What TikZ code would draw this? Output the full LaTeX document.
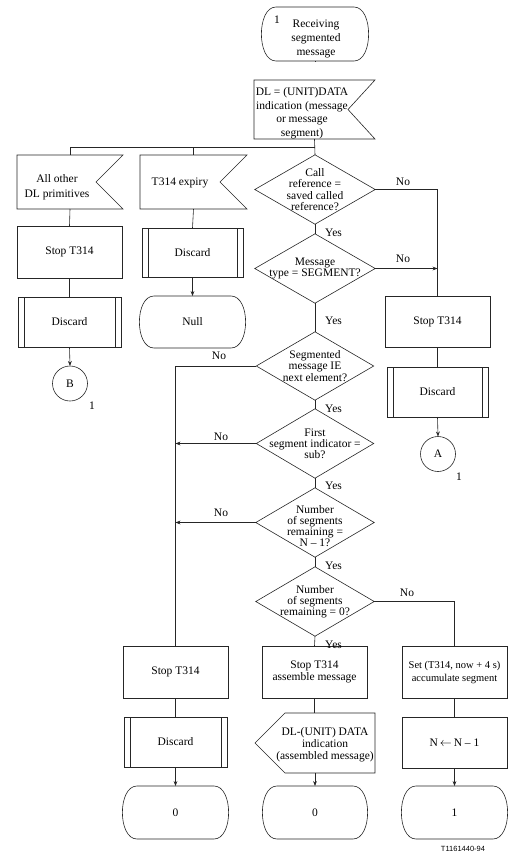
\documentclass[tikz,border=0pt]{standalone}
\usepackage{fontspec}
\setmainfont{Liberation Serif}
\newfontfamily\labelsans{Liberation Sans}
\usetikzlibrary{arrows.meta}
\tikzset{
  ln/.style={draw=black!85, line width=0.6pt},
  arr/.style={ln, -{Stealth[length=5pt,width=3.8pt]}},
  frame/.style={inner sep=0pt, outer sep=0pt, align=center, font=\fontsize{11.5}{13.5}\selectfont},
  txt/.style={inner sep=0pt, align=center, font=\fontsize{11.5}{13.5}\selectfont},
  dtxt/.style={inner sep=0pt, align=center, font=\fontsize{11.5}{11.2}\selectfont},
  lbl/.style={inner sep=0pt, font=\fontsize{11.5}{12}\selectfont},
}
\newcommand\mystate[1]{\draw[ln] ([xshift=14pt]#1.north west) -- ([xshift=-14pt]#1.north east) .. controls ([xshift=5.5pt]#1.north east) and ([xshift=5.5pt]#1.south east) .. ([xshift=-14pt]#1.south east) -- ([xshift=14pt]#1.south west) .. controls ([xshift=-5.5pt]#1.south west) and ([xshift=-5.5pt]#1.north west) .. cycle;}
\newcommand\myproc[1]{\draw[ln] (#1.north west) rectangle (#1.south east); \draw[ln] ([xshift=6pt]#1.north west) -- ([xshift=6pt]#1.south west); \draw[ln] ([xshift=-6pt]#1.north east) -- ([xshift=-6pt]#1.south east);}
\newcommand\myinput[1]{\draw[ln] (#1.north west) -- (#1.north east) -- ([xshift=-27pt]#1.east) -- (#1.south east) -- (#1.south west) -- cycle;}
\newcommand\mydiamond[1]{\draw[ln] (#1.north) -- (#1.east) -- (#1.south) -- (#1.west) -- cycle;}
\newcommand\mybox[1]{\draw[ln] (#1.north west) rectangle (#1.south east);}
\begin{document}
\begin{tikzpicture}[x=1pt,y=-1pt]
\useasboundingbox (0,0) rectangle (524,855);
% ---------- top ----------
\node[frame, minimum width=106, minimum height=54] (s0) at (315,34) {};
\mystate{s0}
\node[txt, font=\fontsize{11.5}{14}\selectfont] (s0t) at (316,39) {Receiving\\segmented\\message};
\node[lbl] (s0n) at (277,20) {1};

\node[frame, minimum width=121, minimum height=59] (in1) at (314.5,109.5) {};
\myinput{in1}
\node[txt] (in1t) at (302,113) {DL = (UNIT)DATA\\indication (message\\or message\\segment)};

\coordinate (bus) at (315,147);

% ---------- left columns ----------
\node[frame, minimum width=106, minimum height=54] (ia) at (70,182) {};
\myinput{ia}
\node[txt, font=\fontsize{11.5}{15}\selectfont] (iat) at (57,187) {All other\\DL primitives};

\node[frame, minimum width=107, minimum height=54] (ib) at (193.5,182) {};
\myinput{ib}
\node[txt] (ibt) at (180,183) {T314 expiry};

\node[frame, minimum width=105, minimum height=52] (st1) at (69.5,252) {Stop T314};
\mybox{st1}
\node[frame, minimum width=103, minimum height=50] (dc1) at (69.5,322) {Discard};
\myproc{dc1}
\node[frame, draw=black!85, line width=0.6pt, circle, minimum size=35] (B) at (70,383.5) {B};
\node[lbl] (Bn) at (92,406) {1};

\node[frame, minimum width=101, minimum height=49] (dc2) at (192.5,252.5) {Discard};
\myproc{dc2}
\node[frame, minimum width=105, minimum height=52] (null) at (192.5,322) {Null};
\mystate{null}

% ---------- main column diamonds ----------
\node[dtxt, minimum width=120, minimum height=69] (d1) at (315,189.5) {Call\\reference =\\saved called\\reference?};
\mydiamond{d1}
\node[dtxt, minimum width=120, minimum height=69] (d2) at (315,268.5) {Message\\type = SEGMENT?};
\mydiamond{d2}
\node[dtxt, minimum width=117, minimum height=68] (d3) at (315,366) {Segmented\\message IE\\next element?};
\mydiamond{d3}
\node[dtxt, minimum width=117, minimum height=69] (d4) at (315,443.5) {First\\segment indicator =\\sub?};
\mydiamond{d4}
\node[dtxt, minimum width=118, minimum height=69] (d5) at (315,522.5) {};
\mydiamond{d5}
\node[dtxt] (d5t) at (315,526) {Number\\of segments\\remaining =\\N -- 1?};
\node[dtxt, minimum width=118, minimum height=69] (d6) at (315,601.5) {Number\\of segments\\remaining = 0?};
\mydiamond{d6}

% ---------- right column ----------
\node[frame, minimum width=105, minimum height=51] (stR) at (437.5,321.5) {Stop T314};
\mybox{stR}
\node[frame, minimum width=101, minimum height=50] (dcR) at (437.5,392) {Discard};
\myproc{dcR}
\node[frame, draw=black!85, line width=0.6pt, circle, minimum size=35] (A) at (438,454) {A};
\node[lbl] (An) at (459,477) {1};

% ---------- bottom row ----------
\node[frame, minimum width=105, minimum height=52] (stL) at (175.5,672) {Stop T314};
\mybox{stL}
\node[frame, minimum width=103, minimum height=50] (dcL) at (175.5,742) {Discard};
\myproc{dcL}
\node[frame, minimum width=105, minimum height=53] (zL) at (175.5,812.5) {0};
\mystate{zL}

\node[frame, font=\fontsize{11.5}{12.5}\selectfont, minimum width=105, minimum height=52] (stM) at (314.5,672) {Stop T314\\assemble message};
\mybox{stM}
\node[frame, minimum width=120, minimum height=60] (oM) at (315,743) {};
\draw[ln] ([xshift=30pt]oM.north west) -- (oM.north east) -- (oM.south east) -- ([xshift=30pt]oM.south west) -- (oM.west) -- cycle;
\node[txt, font=\fontsize{11.5}{12}\selectfont] (oMt) at (325,745) {DL-(UNIT) DATA\\indication\\(assembled message)};
\node[frame, minimum width=104, minimum height=53] (zM) at (315,812.5) {0};
\mystate{zM}

\node[frame, font=\fontsize{10.5}{13}\selectfont, minimum width=105, minimum height=52] (setB) at (454.5,672) {Set (T314, now + 4 s)\\accumulate segment};
\mybox{setB}
\node[frame, minimum width=105, minimum height=51] (nB) at (454.5,742.5) {N\,$\leftarrow$\,N -- 1};
\mybox{nB}
\node[frame, minimum width=105, minimum height=53] (z1) at (454.5,812.5) {1};
\mystate{z1}

\node[inner sep=0pt, font=\labelsans\fontsize{7.5}{8}\selectfont] (ref) at (463,849) {T1161440-94};

% ---------- connectors ----------
\draw[ln] (s0.south) -- (in1.south |- s0.south) ;
\draw[ln] (in1.south) -- (d1.north);
\draw[ln] (bus) -| (ia.north);
\draw[ln] (bus) -| (ib.north);
\draw[ln] (ia.south) -- (st1.north);
\draw[ln] (st1.south) -- (dc1.north);
\draw[arr] (dc1.south) -- (B.north);
\draw[ln] (ib.south) -- (dc2.north);
\draw[arr] (dc2.south) -- (null.north);

\draw[ln] (d1.south) -- (d2.north);
\draw[ln] (d1.east) -| (stR.north);
\draw[arr] (d2.east) -- (d2.east -| stR.north);
\draw[ln] (d2.south) -- (d3.north);
\draw[ln] (d3.west) -| (stL.north);
\draw[ln] (d3.south) -- (d4.north);
\draw[arr] (d4.west) -- (d4.west -| stL.north);
\draw[ln] (d4.south) -- (d5.north);
\draw[arr] (d5.west) -- (d5.west -| stL.north);
\draw[ln] (d5.south) -- (d6.north);
\draw[ln] (d6.east) -| (setB.north);
\draw[ln] (d6.south) -- (stM.north);

\draw[ln] (stR.south) -- (dcR.north);
\draw[arr] (dcR.south) -- (A.north);

\draw[ln] (stL.south) -- (dcL.north);
\draw[arr] (dcL.south) -- (zL.north);
\draw[ln] (stM.south) -- (oM.north -| stM.south);
\draw[arr] (oM.south) -- (zM.north);
\draw[ln] (setB.south) -- (nB.north);
\draw[arr] (nB.south) -- (z1.north);

% ---------- labels ----------
\node[lbl] (no1) at (403,182) {No};
\node[lbl] (no2) at (403,259) {No};
\node[lbl] (no3) at (219,356) {No};
\node[lbl] (no4) at (221,437) {No};
\node[lbl] (no5) at (221,513) {No};
\node[lbl] (no6) at (407,593) {No};
\node[lbl, anchor=west] (y1) at (325,233) {Yes};
\node[lbl, anchor=west] (y2) at (325,321) {Yes};
\node[lbl, anchor=west] (y3) at (325,409) {Yes};
\node[lbl, anchor=west] (y4) at (325,486) {Yes};
\node[lbl, anchor=west] (y5) at (325,566) {Yes};
\node[lbl, anchor=west] (y6) at (325,645) {Yes};
\end{tikzpicture}
\end{document}
